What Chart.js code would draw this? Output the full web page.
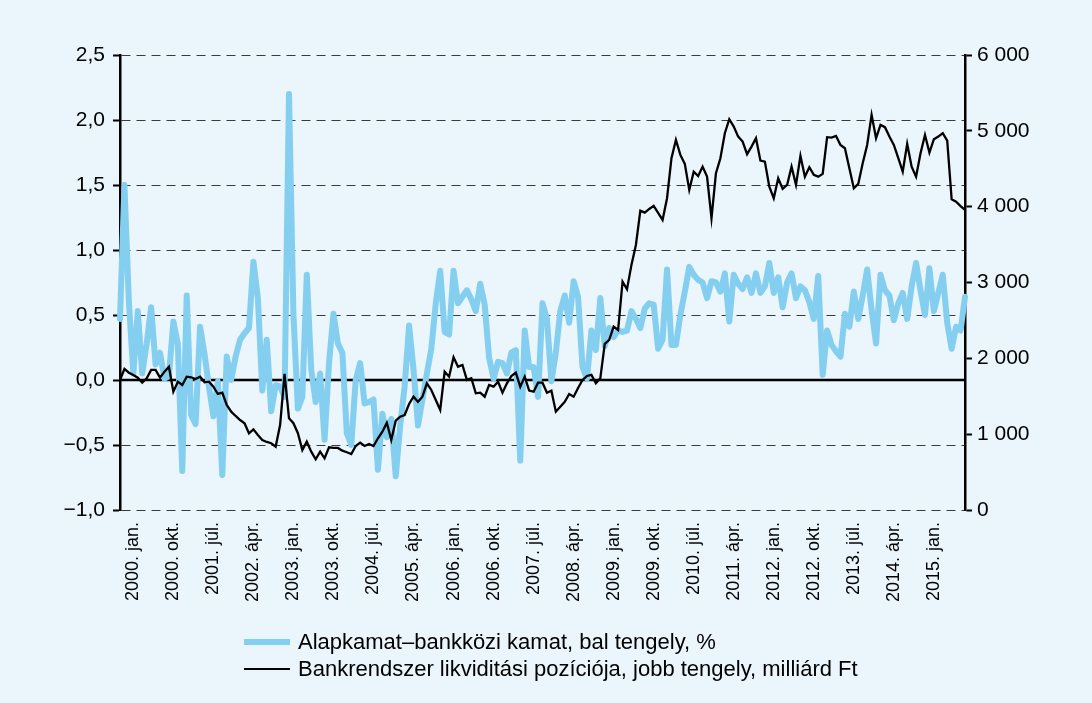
<!DOCTYPE html>
<html lang="hu">
<head>
<meta charset="utf-8">
<script src="https://cdn.jsdelivr.net/npm/chart.js@4.4.1/dist/chart.umd.min.js"></script>
<style>
  html, body { margin: 0; padding: 0; background: #eaf5fc; }
  #wrap { position: relative; width: 1092px; height: 703px; }
  #legend { position: absolute; left: 244px; top: 628px; font: 22px "Liberation Sans", Arial, sans-serif; color: #000; }
  .item { display: flex; align-items: center; height: 27px; white-space: nowrap; }
  .swatch { width: 46px; margin-right: 8px; }
</style>
</head>
<body>
<div id="wrap">
  <canvas id="chart" width="1092" height="703"></canvas>
  <div id="legend"></div>
</div>
<script>
// havi adatok, 1999. okt. - 2015. aug.
const startYear = 1999, startMonth = 9, monthCount = 191;
const monthNames = ['jan', 'febr', 'márc', 'ápr', 'máj', 'jún', 'júl', 'aug', 'szept', 'okt', 'nov', 'dec'];
const tickLabels = ['2000. jan.', '2000. okt.', '2001. júl.', '2002. ápr.', '2003. jan.', '2003. okt.', '2004. júl.',
  '2005. ápr.', '2006. jan.', '2006. okt.', '2007. júl.', '2008. ápr.', '2009. jan.', '2009. okt.', '2010. júl.',
  '2011. ápr.', '2012. jan.', '2012. okt.', '2013. júl.', '2014. ápr.', '2015. jan.'];
const legendLabels = ['Alapkamat–bankközi kamat, bal tengely, %', 'Bankrendszer likviditási pozíciója, jobb tengely, milliárd Ft'];

// alapkamat - bankközi kamat (%)
const rateSpread = [
  0.47, 1.50, 0.60, 0.05, 0.53, 0.05, 0.28, 0.56, 0.12, 0.21, 0.01, 0.03, 0.45, 0.28, -0.70, 0.65,
  -0.27, -0.34, 0.41, 0.20, -0.05, -0.28, -0.01, -0.73, 0.18, 0.00, 0.18, 0.31, 0.36, 0.40, 0.91, 0.63,
  -0.08, 0.31, -0.24, -0.04, -0.05, -0.13, 2.20, 0.50, -0.22, -0.13, 0.81, 0.08, -0.17, 0.05, -0.46, 0.13,
  0.51, 0.28, 0.21, -0.41, -0.50, 0.00, 0.13, -0.18, -0.17, -0.15, -0.69, -0.26, -0.44, -0.30, -0.74, -0.35,
  -0.05, 0.42, 0.08, -0.35, -0.15, 0.05, 0.24, 0.59, 0.84, 0.37, 0.35, 0.84, 0.59, 0.64, 0.69, 0.62,
  0.53, 0.74, 0.58, 0.17, 0.01, 0.14, 0.13, 0.05, 0.21, 0.23, -0.62, 0.38, 0.10, 0.10, -0.13, 0.59,
  0.47, -0.01, 0.21, 0.53, 0.65, 0.44, 0.76, 0.64, 0.10, 0.01, 0.38, 0.23, 0.63, 0.26, 0.40, 0.33,
  0.38, 0.37, 0.38, 0.53, 0.47, 0.40, 0.55, 0.59, 0.58, 0.24, 0.31, 0.85, 0.27, 0.27, 0.50, 0.68,
  0.87, 0.81, 0.77, 0.75, 0.63, 0.76, 0.75, 0.68, 0.82, 0.45, 0.81, 0.74, 0.70, 0.79, 0.67, 0.82,
  0.67, 0.72, 0.90, 0.67, 0.79, 0.56, 0.75, 0.82, 0.63, 0.72, 0.69, 0.60, 0.47, 0.80, 0.04, 0.38,
  0.27, 0.22, 0.18, 0.51, 0.41, 0.68, 0.47, 0.65, 0.85, 0.54, 0.28, 0.81, 0.69, 0.65, 0.46, 0.59,
  0.67, 0.47, 0.72, 0.90, 0.69, 0.50, 0.86, 0.53, 0.67, 0.81, 0.44, 0.24, 0.41, 0.38, 0.64
];

// bankrendszer likviditási pozíciója (milliárd Ft)
const liquidity = [
  1715, 1860, 1811, 1781, 1745, 1679, 1737, 1847, 1847, 1745, 1824, 1890, 1560, 1692, 1649, 1758,
  1750, 1728, 1758, 1684, 1692, 1626, 1530, 1547, 1385, 1297, 1240, 1187, 1144, 1012, 1064, 989,
  923, 897, 880, 835, 1121, 1794, 1210, 1144, 1012, 791, 901, 769, 669, 769, 682, 827,
  818, 818, 782, 761, 739, 844, 888, 844, 871, 844, 946, 1033, 1151, 923, 1178, 1231,
  1253, 1398, 1494, 1428, 1494, 1671, 1583, 1451, 1319, 1824, 1758, 2014, 1890, 1913, 1715, 1737,
  1539, 1547, 1494, 1649, 1626, 1692, 1547, 1671, 1767, 1811, 1626, 1758, 1574, 1560, 1679, 1679,
  1547, 1574, 1297, 1363, 1428, 1530, 1494, 1609, 1715, 1767, 1781, 1671, 1737, 2190, 2243, 2418,
  2374, 3011, 2911, 3232, 3495, 3948, 3921, 3970, 4010, 3917, 3825, 4111, 4639, 4880, 4682, 4564,
  4221, 4462, 4405, 4528, 4396, 3848, 4441, 4639, 4969, 5153, 5056, 4924, 4858, 4692, 4792, 4903,
  4607, 4594, 4264, 4111, 4375, 4234, 4287, 4528, 4287, 4669, 4396, 4520, 4419, 4396, 4432, 4916,
  4911, 4933, 4814, 4771, 4507, 4243, 4300, 4573, 4814, 5210, 4903, 5078, 5048, 4924, 4814, 4639,
  4462, 4828, 4528, 4396, 4705, 4946, 4713, 4890, 4924, 4969, 4871, 4098, 4066, 4008, 3957
];

const months = [];
for (let i = 0; i < monthCount; i++) {
  const m = (startMonth + i) % 12;
  const y = startYear + Math.floor((startMonth + i) / 12);
  months.push(`${y}. ${monthNames[m]}.`);
}

const blue = '#84cef0';
const fontFamily = '"Liberation Sans", Arial, sans-serif';
Chart.defaults.font.family = fontFamily;
Chart.defaults.color = '#000';

// vastag nulla vonal a bal tengelyen
const zeroLine = {
  id: 'zeroLine',
  beforeDatasetsDraw(chart) {
    const { ctx, chartArea, scales } = chart;
    const y = scales.y.getPixelForValue(0);
    ctx.save();
    ctx.strokeStyle = '#000';
    ctx.lineWidth = 2.5;
    ctx.beginPath();
    ctx.moveTo(chartArea.left, y);
    ctx.lineTo(chartArea.right, y);
    ctx.stroke();
    ctx.restore();
  }
};

const fmtLeft = v => v.toFixed(1).replace('.', ',').replace('-', '−');
const fmtRight = v => String(v).replace(/\B(?=(\d{3})+(?!\d))/g, ' ');

new Chart(document.getElementById('chart'), {
  type: 'line',
  data: {
    labels: months,
    datasets: [
      {
        label: legendLabels[0],
        data: rateSpread,
        yAxisID: 'y',
        borderColor: blue,
        borderWidth: 6,
        borderJoinStyle: 'round',
        borderCapStyle: 'round',
        pointRadius: 0,
        tension: 0,
        order: 2
      },
      {
        label: legendLabels[1],
        data: liquidity,
        yAxisID: 'y1',
        borderColor: '#000',
        borderWidth: 2.3,
        pointRadius: 0,
        tension: 0,
        order: 1
      }
    ]
  },
  options: {
    responsive: false,
    animation: false,
    layout: { padding: { top: 55, left: 0, right: 0, bottom: 0 } },
    plugins: { legend: { display: false }, tooltip: { enabled: false } },
    scales: {
      x: {
        offset: false,
        grid: { display: false, drawTicks: false },
        border: { display: false },
        ticks: {
          autoSkip: false,
          minRotation: 90,
          maxRotation: 90,
          padding: 12,
          font: { size: 18 },
          callback: (v, i) => tickLabels.includes(months[i]) ? months[i] : null
        },
        afterFit: s => { s.height = 193; }
      },
      y: {
        position: 'left',
        min: -1,
        max: 2.5,
        ticks: { stepSize: 0.5, padding: 8, font: { size: 21 }, callback: v => fmtLeft(v) },
        grid: {
          color: c => c.tick && c.tick.value === 0 ? 'rgba(0,0,0,0)' : '#3a3a3a',
          lineWidth: 1,
          tickLength: 7,
          tickColor: '#000',
          tickWidth: 2
        },
        border: { color: '#000', width: 2.5, dash: [9, 6] },
        afterFit: s => { s.width = 120; }
      },
      y1: {
        position: 'right',
        min: 0,
        max: 6000,
        ticks: { stepSize: 1000, padding: 5, font: { size: 21 }, callback: v => fmtRight(v) },
        grid: { drawOnChartArea: false, tickLength: 7, tickColor: '#000', tickWidth: 2 },
        border: { color: '#000', width: 2.5 },
        afterFit: s => { s.width = 127; }
      }
    }
  },
  plugins: [zeroLine]
});

// jelmagyarázat
const legend = document.getElementById('legend');
[[blue, 6], ['#000', 2.5]].forEach(([color, w], i) => {
  const row = document.createElement('div');
  row.className = 'item';
  const sw = document.createElement('span');
  sw.className = 'swatch';
  sw.style.borderTop = `${w}px solid ${color}`;
  row.appendChild(sw);
  row.appendChild(document.createTextNode(legendLabels[i]));
  legend.appendChild(row);
});
</script>
</body>
</html>
